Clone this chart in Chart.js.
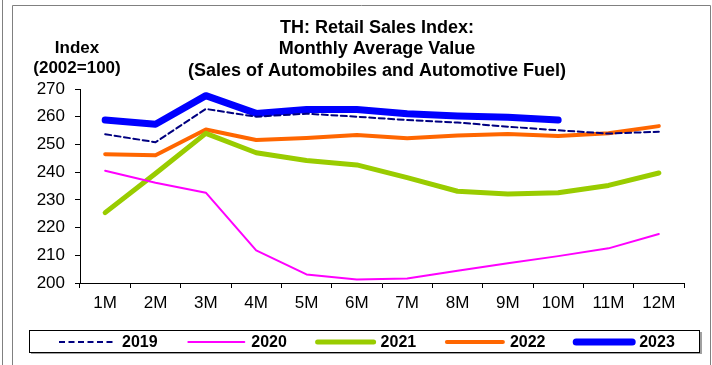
<!DOCTYPE html>
<html>
<head>
<meta charset="utf-8">
<script src="https://cdn.jsdelivr.net/npm/chart.js@4/dist/chart.umd.min.js"></script>
<style>
  body { margin: 0; background: #fff; }
  canvas { display: block; }
</style>
</head>
<body>
<canvas id="retail-chart" width="712" height="365"></canvas>
<script>
const months = ['1M', '2M', '3M', '4M', '5M', '6M', '7M', '8M', '9M', '10M', '11M', '12M'];
const yTicks = [200, 210, 220, 230, 240, 250, 260, 270];

const sales2019 = [253.7, 250.8, 262.8, 260.0, 261.1, 260.0, 258.8, 257.9, 256.4, 255.1, 253.9, 254.6];
const sales2020 = [240.5, 236.2, 232.6, 211.8, 203.1, 201.3, 201.6, 204.4, 207.1, 209.7, 212.5, 217.7];
const sales2021 = [225.4, 239.5, 254.0, 247.0, 244.2, 242.6, 238.0, 233.1, 232.1, 232.6, 235.2, 239.7];
const sales2022 = [246.5, 246.1, 255.4, 251.6, 252.3, 253.4, 252.2, 253.2, 253.8, 253.0, 254.0, 256.6];
const sales2023 = [258.8, 257.3, 267.6, 261.2, 262.6, 262.6, 261.1, 260.3, 259.8, 258.8, null, null];

const FONT = '"Liberation Sans", Arial, sans-serif';

// titles, frame and legend box drawn around the plot
const decorations = {
    id: 'decorations',
    beforeDraw(chart) {
        const c = chart.ctx;
        c.save();
        c.fillStyle = '#fff';
        c.fillRect(0, 0, chart.width, chart.height);
        c.strokeStyle = '#808080';
        c.lineWidth = 1;
        c.beginPath();
        c.moveTo(2.5, 0); c.lineTo(2.5, 365);
        c.moveTo(12.5, 365); c.lineTo(12.5, 5.5); c.lineTo(710.5, 5.5); c.lineTo(710.5, 365);
        c.stroke();
        c.restore();
    },
    afterDraw(chart) {
        const c = chart.ctx;
        c.save();
        c.fillStyle = '#000';
        c.textAlign = 'center';
        c.textBaseline = 'middle';
        c.font = 'bold 18px ' + FONT;
        ['TH: Retail Sales Index:', 'Monthly Average Value', '(Sales of Automobiles and Automotive Fuel)']
            .forEach((t, i) => c.fillText(t, 377, 28 + i * 21.5));
        c.font = 'bold 17px ' + FONT;
        c.fillText('Index', 77, 48);
        c.fillText('(2002=100)', 77, 68);

        // legend
        c.fillStyle = '#a0a0a0';
        c.fillRect(31, 352, 671, 2);
        c.fillRect(700, 332, 2, 22);
        c.strokeStyle = '#000';
        c.lineWidth = 1;
        c.strokeRect(29.5, 330.5, 670, 22);
        c.textAlign = 'left';
        c.font = 'bold 16px ' + FONT;
        chart.data.datasets.forEach((ds, i) => {
            const x0 = 59 + i * 129.3;
            const y = 342;
            c.beginPath();
            c.strokeStyle = ds.borderColor;
            c.lineWidth = ds.borderWidth;
            c.lineCap = ds.borderDash ? 'butt' : 'round';
            c.setLineDash(ds.borderDash || []);
            c.moveTo(x0, y);
            c.lineTo(x0 + 56, y);
            c.stroke();
            c.setLineDash([]);
            c.fillStyle = '#000';
            c.fillText(ds.label, x0 + 63, y + 1);
        });
        c.restore();
    }
};

new Chart(document.getElementById('retail-chart'), {
    type: 'line',
    data: {
        labels: months,
        datasets: [
            { label: '2019', data: sales2019, borderColor: '#000080', borderWidth: 2, borderDash: [6, 3.5] },
            { label: '2020', data: sales2020, borderColor: '#FF00FF', borderWidth: 2 },
            { label: '2021', data: sales2021, borderColor: '#99CC00', borderWidth: 5 },
            { label: '2022', data: sales2022, borderColor: '#FF6600', borderWidth: 4 },
            { label: '2023', data: sales2023, borderColor: '#0000FF', borderWidth: 7 }
        ]
    },
    options: {
        responsive: false,
        animation: false,
        layout: { padding: { left: 20, right: 28, top: 89, bottom: 52 } },
        datasets: {
            line: {
                pointRadius: 0,
                pointHoverRadius: 0,
                tension: 0,
                fill: false,
                borderCapStyle: 'round',
                borderJoinStyle: 'round',
                spanGaps: false
            }
        },
        plugins: {
            legend: { display: false },
            title: { display: false },
            tooltip: { enabled: false }
        },
        scales: {
            x: {
                offset: true,
                grid: { offset: true, drawOnChartArea: false, drawTicks: true, tickLength: 5, color: '#000' },
                border: { display: true, color: '#000', width: 1 },
                ticks: { color: '#000', font: { family: FONT, size: 17 }, padding: 5, maxRotation: 0 },
                afterFit: s => { s.height = 30; }
            },
            y: {
                min: yTicks[0],
                max: yTicks[yTicks.length - 1],
                afterBuildTicks: s => { s.ticks = yTicks.map(v => ({ value: v })); },
                grid: { drawOnChartArea: false, drawTicks: true, tickLength: 5, color: '#000' },
                border: { display: true, color: '#000', width: 1 },
                ticks: { color: '#000', font: { family: FONT, size: 17 }, padding: 10 },
                afterFit: s => { s.width = 60; }
            }
        }
    },
    plugins: [decorations]
});
</script>
</body>
</html>
